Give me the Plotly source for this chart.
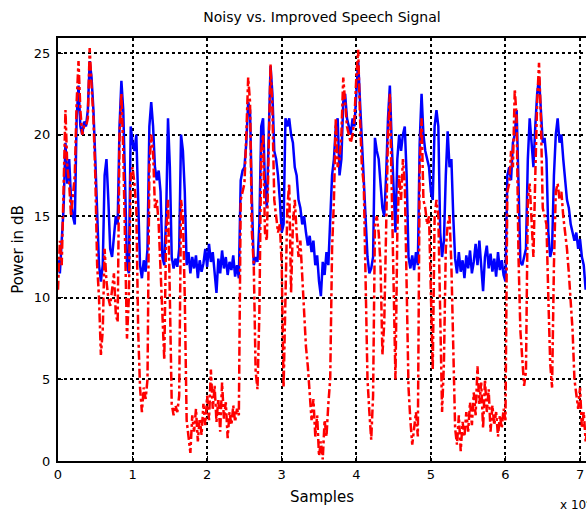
import numpy as np
import plotly.graph_objects as go

# power in dB, one value every 250 samples
step = 250
noisy_db = [
    12.3, 11.5, 13.5, 15.5, 19.5, 17.0, 18.5, 16.0, 15.0, 14.5,
    21.0, 23.0, 20.5, 20.0, 20.8, 20.5, 21.5, 24.5, 23.5, 21.5,
    18.5, 15.0, 12.0, 11.0, 12.0, 17.5, 18.5, 16.0, 13.0, 12.5,
    14.0, 15.0, 14.5, 20.5, 23.3, 21.5, 17.0, 12.0, 11.5, 20.5,
    19.5, 19.0, 20.0, 16.0, 12.0, 11.2, 12.3, 11.6, 13.0, 20.5,
    22.0, 20.5, 18.0, 17.2, 17.8, 16.5, 12.5, 12.0, 15.0, 21.0,
    18.0, 12.5, 11.8, 12.4, 11.9, 13.0, 20.0, 19.0, 16.5, 12.0,
    12.8, 11.5, 12.5, 11.8, 12.6, 11.2, 12.3, 11.6, 12.1, 13.0,
    11.9, 13.3, 12.2, 12.8, 11.6, 10.3, 12.4, 11.5, 12.9, 11.8,
    12.5, 11.4, 12.2, 11.7, 12.6, 11.3, 12.0, 11.2, 17.2, 17.8,
    18.0, 19.5, 22.0, 21.5, 16.0, 12.0, 12.5, 12.2, 14.5, 20.5,
    21.0, 17.0, 15.5, 20.0, 24.2, 22.5, 19.0, 18.5, 17.5, 16.0,
    14.0, 14.5, 21.0, 20.5, 21.0, 20.0, 19.5, 18.0, 17.5, 16.0,
    15.5, 14.5, 15.0, 14.0, 13.2, 13.8, 12.8, 13.5, 12.0, 12.6,
    11.0, 10.1, 12.2, 11.4, 12.8, 12.0, 15.0, 17.5, 18.5, 20.5,
    21.0, 17.5, 18.5, 22.0, 22.5, 21.0, 20.5, 20.0, 21.0, 20.5,
    22.5, 24.5, 22.0, 19.5, 17.5, 15.0, 12.5, 11.5, 11.8, 12.5,
    19.8, 19.0, 18.5, 17.0, 15.5, 15.0, 17.5, 21.0, 23.0, 19.5,
    17.0, 14.0, 18.5, 20.0, 19.0, 20.0, 20.5, 17.5, 12.5, 11.8,
    12.6, 11.7, 12.8, 12.0, 19.5, 22.5, 20.0, 19.0, 18.5, 18.0,
    16.5, 16.0, 20.5, 21.5, 20.5, 14.0, 12.5, 13.5, 17.5, 20.2,
    18.0, 18.5, 15.0, 12.4, 11.5, 12.8, 11.6, 12.3, 11.2, 12.6,
    11.8, 12.9, 11.5, 12.2, 13.3, 12.0, 13.5, 11.9, 10.4, 12.5,
    13.2, 11.8, 12.7, 11.6, 12.4, 11.3, 12.8, 11.7, 12.3, 11.4,
    11.0, 17.5, 18.0, 17.2, 19.5, 20.0, 21.5, 17.0, 12.2, 12.0,
    12.5, 13.0, 18.5, 21.0, 19.5, 18.0, 20.5, 22.5, 23.5, 21.5,
    19.5, 19.8, 18.5, 14.0, 12.5, 13.0, 17.5, 20.0, 21.0, 19.5,
    20.0, 18.5, 17.0, 16.0, 15.5, 14.5, 14.0, 13.5, 14.0, 13.0,
    13.6, 12.5, 12.0, 10.5, 11.0,
]
improved_db = [
    10.5, 13.5, 12.0, 17.0, 21.5, 18.0, 17.0, 15.0, 16.5, 17.5,
    22.0, 24.5, 21.5, 20.0, 20.5, 20.5, 21.0, 25.3, 23.0, 21.0,
    17.5, 12.0, 10.0, 6.5, 8.0, 13.0, 11.0, 10.0, 9.5, 10.5,
    11.5, 9.0, 8.5, 20.0, 22.5, 19.0, 12.0, 7.5, 10.0, 17.5,
    18.0, 17.0, 15.5, 8.0, 4.5, 3.0, 4.5, 3.8, 5.0, 18.0,
    20.0, 19.0, 15.5, 16.0, 14.5, 12.0, 9.0, 6.2, 14.0, 16.0,
    10.0, 3.5, 2.8, 3.4, 3.0, 4.0, 16.0, 15.0, 10.0, 2.5,
    1.5, 0.5, 2.8, 1.8, 3.2, 1.2, 2.6, 1.6, 3.5, 2.2,
    4.0, 2.5, 5.6, 3.2, 4.6, 2.4, 3.8, 1.8, 4.8, 2.6,
    3.6, 1.4, 3.0, 2.2, 3.4, 2.4, 3.2, 2.8, 16.0, 16.5,
    17.0, 20.0, 23.5, 22.0, 14.0, 12.0, 5.5, 4.4, 9.0, 19.0,
    20.0, 14.0, 13.5, 19.0, 24.3, 21.5, 16.0, 15.0, 14.0, 14.5,
    12.0, 4.5, 9.5, 15.5, 17.0, 10.3, 14.5, 16.0, 14.0, 12.5,
    13.5, 11.0, 9.0, 7.0, 5.8, 4.0, 2.5, 3.8, 1.5, 2.8,
    0.3, 1.2, 0.1, 2.5, 1.5, 3.5, 5.0, 13.0, 16.0, 21.0,
    18.0, 18.5, 20.0, 23.5, 22.0, 20.5, 20.0, 19.5, 20.0, 21.0,
    23.5, 25.2, 21.0, 18.0, 17.0, 9.5, 5.0, 3.0, 1.3, 4.0,
    14.5, 15.0, 14.0, 12.0, 6.5, 8.5, 15.0, 20.0, 22.5, 16.0,
    9.0, 5.0, 14.0, 17.5, 16.0, 18.5, 17.0, 10.0, 4.5, 2.5,
    1.0, 2.0, 3.0, 1.5, 18.0, 21.0, 16.0, 15.5, 14.5, 15.0,
    10.0, 5.6, 15.0, 16.0, 15.0, 8.0, 3.0, 6.0, 13.0, 14.5,
    15.0, 12.0, 6.0, 2.0, 1.0, 2.8, 0.6, 2.4, 1.5, 3.0,
    1.8, 3.6, 2.2, 4.2, 2.8, 5.8, 3.5, 4.8, 2.0, 5.0,
    3.0, 4.4, 1.8, 3.4, 2.2, 3.0, 1.5, 2.8, 2.0, 3.2,
    2.5, 16.5, 17.0, 19.0, 18.0, 22.8, 21.0, 12.5, 8.0, 6.0,
    4.6, 5.5, 16.0, 17.0, 15.0, 12.5, 17.5, 22.0, 24.4, 21.0,
    15.5, 15.0, 14.5, 10.0, 6.0, 4.5, 12.0, 16.5, 17.0, 16.0,
    16.5, 15.0, 14.0, 13.0, 11.5, 10.0, 8.0, 5.0, 4.0, 3.2,
    4.5, 2.0, 3.0, 1.2, 2.0,
]
x_ticks = [0, 10000, 20000, 30000, 40000, 50000, 60000, 70000]
x_tick_labels = ["0", "1", "2", "3", "4", "5", "6", "7"]
y_ticks = [0, 5, 10, 15, 20, 25]

samples = np.arange(len(noisy_db)) * step

fig = go.Figure()
fig.add_trace(go.Scatter(x=samples, y=noisy_db, mode="lines",
                         line=dict(color="#0000ff", width=2.5), name="noisy"))
fig.add_trace(go.Scatter(x=samples, y=improved_db, mode="lines",
                         line=dict(color="#ff0000", width=2.5, dash="dashdot"),
                         name="improved"))

axis_font = dict(family="DejaVu Sans", size=13, color="black")
fig.update_layout(
    width=587, height=509,
    margin=dict(l=58, r=1, t=38, b=48),
    paper_bgcolor="white", plot_bgcolor="white",
    showlegend=False,
    font=axis_font,
    title=dict(text="Noisy vs. Improved Speech Signal", x=0.5, xref="paper",
               y=1 - 17 / 509, yanchor="middle", font=dict(size=14)),
)
fig.update_xaxes(range=[0, 70800], tickvals=x_ticks, ticktext=x_tick_labels,
                 showline=True, linecolor="black", linewidth=2, mirror=True,
                 ticks="inside", ticklen=5, tickcolor="black",
                 showgrid=True, gridcolor="black", griddash="dot", gridwidth=1.5,
                 zeroline=False, automargin=False,
                 title=dict(text="Samples", font=dict(size=15), standoff=11))
fig.update_yaxes(range=[0, 25.92], tickvals=y_ticks,
                 showline=True, linecolor="black", linewidth=2,
                 ticks="inside", ticklen=5, tickcolor="black",
                 showgrid=True, gridcolor="black", griddash="dot", gridwidth=1.5,
                 zeroline=False, automargin=False, ticklabelstandoff=3,
                 title=dict(text="Power in dB", font=dict(size=15), standoff=7))
fig.add_annotation(text="x 10<sup>4</sup>", xref="paper", yref="paper",
                   x=(558 - 58) / 528, y=(461 - 504) / 423,
                   xanchor="left", yanchor="middle", showarrow=False,
                   font=dict(size=12))

fig.write_html("out.html", config={"responsive": False, "displayModeBar": False},
               post_script="document.body.style.margin='0';"
                           "document.body.style.overflow='hidden';")
